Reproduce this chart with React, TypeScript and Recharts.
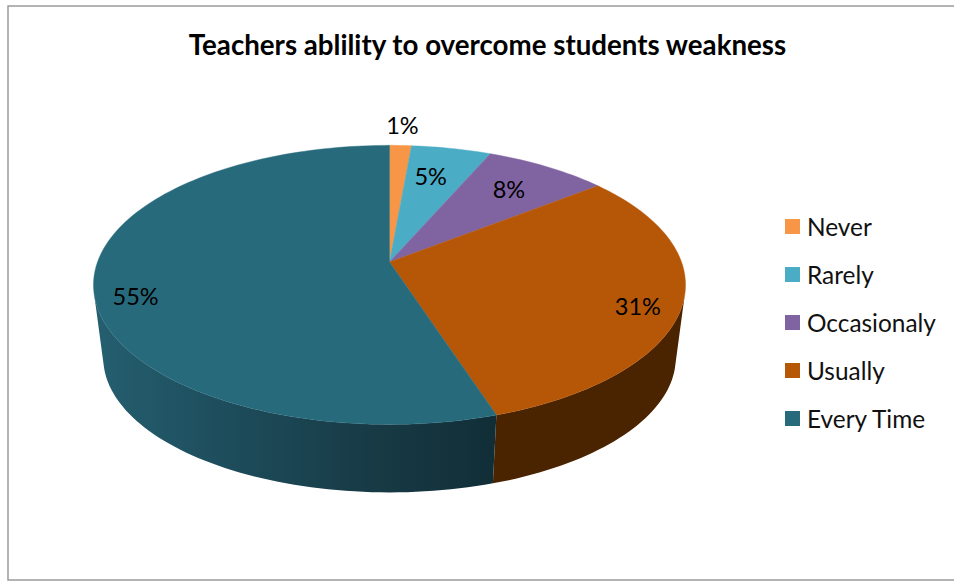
import React from "react";
import { PieChart, Pie, Legend } from "recharts";

const categories = ["Never", "Rarely", "Occasionaly", "Usually", "Every Time"];
const sliceValues = [1.4, 5.1, 7.9, 30.6, 55.0];
const sliceColors = ["#F79646", "#4BACC6", "#8064A2", "#B65708", "#276A7C"];
const wallStops = [
  [["0", "#5c3a1c"]],
  [["0", "#25565f"]],
  [["0", "#3d3050"]],
  [["0", "#4A2300"]],
  [["0", "#245E6F"], ["0.35", "#1D4B5A"], ["0.7", "#173A45"], ["1", "#112E37"]],
];
const labelRadii = [1.206, 0.72, 0.742, 0.864, 0.869];
const labelTurn = [0, -1.6, -0.4, 3.9, -7];

const tableData = categories.map((name, i) => ({ name, value: sliceValues[i], fill: sliceColors[i] }));

const TILT = 0.465;
const PERSP = 0.164;
const WALL_X = 0.967;
const WALL_Y = 0.964;
const WALL_DROP = 73;
const RIM_SHIFT = 23;

const project = (cx: number, cy: number, r: number, deg: number, f = 1) => {
  const rad = (deg * Math.PI) / 180;
  const x = f * Math.cos(rad);
  const y = f * Math.sin(rad);
  const d = 1 + PERSP * y;
  return { x: cx + (r * x) / d, y: cy - (r * TILT * y) / d };
};

const arcPoints = (p: any) => {
  const n = Math.max(2, Math.ceil(Math.abs(p.endAngle - p.startAngle) / 1.5));
  const out = [];
  for (let i = 0; i <= n; i++) {
    const deg = p.startAngle + ((p.endAngle - p.startAngle) * i) / n;
    out.push(project(p.cx, p.cy, p.outerRadius, deg));
  }
  return out;
};

const TopFace = (p: any) => {
  const pts = arcPoints(p);
  const d = `M${p.cx},${p.cy}` + pts.map((q: any) => `L${q.x},${q.y}`).join("") + "Z";
  return <path d={d} fill={p.fill} stroke={p.fill} strokeWidth={0.4} />;
};

const WallFace = (p: any) => {
  const pts = arcPoints(p);
  const midY = p.cy + RIM_SHIFT;
  const low = (q: any) => ({
    x: p.cx + (q.x - p.cx) * WALL_X,
    y: midY + WALL_DROP + (q.y - midY) * WALL_Y,
  });
  const id = `wall-${p.index}`;
  const stops = wallStops[p.index];
  let d = "";
  for (let i = 0; i < pts.length - 1; i++) {
    const a = pts[i];
    const b = pts[i + 1];
    const c = low(b);
    const e = low(a);
    const area =
      (b.x - a.x) * (b.y + a.y) +
      (c.x - b.x) * (c.y + b.y) +
      (e.x - c.x) * (e.y + c.y) +
      (a.x - e.x) * (a.y + e.y);
    if (area > 0) d += `M${a.x},${a.y}L${b.x},${b.y}L${c.x},${c.y}L${e.x},${e.y}Z`;
  }
  if (!d) return <g />;
  return (
    <g>
      <defs>
        <linearGradient id={id} gradientUnits="userSpaceOnUse" x1={100} y1={0} x2={497} y2={0}>
          {stops.map(([o, c]) => (
            <stop key={o} offset={o} stopColor={c} />
          ))}
        </linearGradient>
      </defs>
      <path d={d} fill={`url(#${id})`} />
    </g>
  );
};

const renderLabel = (p: any) => {
  const i = p.index;
  const q = project(p.cx, p.cy, p.outerRadius, p.midAngle - labelTurn[i], labelRadii[i]);
  return (
    <text
      key={i}
      x={q.x}
      y={q.y}
      textAnchor="middle"
      dominantBaseline="central"
      fontFamily="Lato"
      fontSize={23.5}
      fill="#000"
    >
      {`${Math.round(p.percent * 100)}%`}
    </text>
  );
};

const LegendList = ({ payload }: any) => {
  const seen = new Set();
  const items = (payload || []).filter((e: any) => {
    if (seen.has(e.value)) return false;
    seen.add(e.value);
    return true;
  });
  return (
    <div>
      {items.map((e: any) => (
        <div
          key={e.value}
          style={{
            height: 48.2,
            display: "flex",
            alignItems: "center",
            fontFamily: "Lato",
            fontSize: 24.4,
            color: "#111",
            whiteSpace: "nowrap",
          }}
        >
          <span style={{ width: 15, height: 15, background: e.color, marginRight: 7, display: "inline-block" }} />
          {e.value}
        </div>
      ))}
    </div>
  );
};

export default function App() {
  return (
    <div style={{ position: "absolute", left: 0, top: 0, width: 954, height: 581, background: "#fff" }}>
      <PieChart width={954} height={581} margin={{ top: 0, right: 0, bottom: 0, left: 0 }}>
        <rect x={8} y={6} width={960} height={574} fill="none" stroke="#9a9a9a" strokeWidth={1.5} />
        <text
          x={487.5}
          y={44}
          textAnchor="middle"
          dominantBaseline="central"
          fontFamily="Lato"
          fontWeight={700}
          fontSize={27.7}
          fill="#000"
        >
          Teachers ablility to overcome students weakness
        </text>
        <Pie
          data={tableData}
          dataKey="value"
          nameKey="name"
          cx={389.5}
          cy={262}
          outerRadius={292}
          startAngle={90}
          endAngle={-270}
          stroke="none"
          legendType="none"
          isAnimationActive={false}
          shape={WallFace}
        />
        <Pie
          data={tableData}
          dataKey="value"
          nameKey="name"
          cx={389.5}
          cy={262}
          outerRadius={292}
          startAngle={90}
          endAngle={-270}
          stroke="none"
          isAnimationActive={false}
          shape={TopFace}
          label={renderLabel}
          labelLine={false}
        />
        <Legend
          layout="vertical"
          content={LegendList}
          itemSorter={null}
          wrapperStyle={{ position: "absolute", left: 785, top: 202, width: 165 }}
        />
      </PieChart>
    </div>
  );
}
